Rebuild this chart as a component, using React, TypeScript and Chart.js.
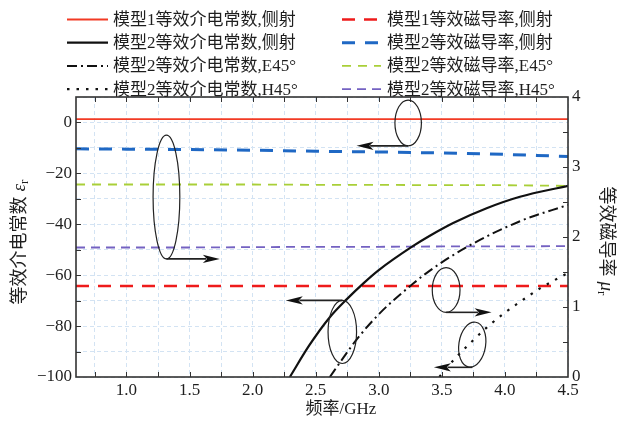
import React, { useEffect, useRef } from 'react';
import { Chart, registerables } from 'chart.js';

Chart.register(...registerables);

const SERIF = "'Liberation Serif', 'Noto Sans CJK SC', serif";
const TEXT = '#1e1e1e';

// Frequencies (GHz) for the nearly flat curves
const freqFlat = [0.6, 1.0, 1.5, 2.0, 2.5, 3.0, 3.5, 4.0, 4.5];
// Model 1 permittivity, broadside (left axis)
const eps1Side = [1.3, 1.3, 1.3, 1.3, 1.3, 1.3, 1.3, 1.3, 1.3];
// Permeabilities (right axis)
const mu1Side = [1.3, 1.3, 1.3, 1.3, 1.3, 1.3, 1.3, 1.3, 1.3];
const mu2Side = [3.26, 3.255, 3.25, 3.24, 3.225, 3.215, 3.2, 3.18, 3.15];
const mu2E45 = [2.75, 2.75, 2.75, 2.75, 2.745, 2.745, 2.74, 2.74, 2.73];
const mu2H45 = [1.85, 1.85, 1.85, 1.855, 1.86, 1.86, 1.865, 1.865, 1.87];

// Model 2 permittivity curves (left axis)
const freqEps2Side = [2.295, 2.45, 2.612, 2.745, 2.876, 3.0, 3.273, 3.405, 3.59, 3.855, 4.119, 4.5];
const eps2Side = [-100, -87.5, -76.5, -69.5, -63.3, -58.0, -48.5, -44.5, -39.5, -33.7, -29.2, -24.9];
const freqEps2E45 = [2.612, 2.718, 2.824, 3.009, 3.273, 3.405, 3.696, 4.119, 4.5];
const eps2E45 = [-100, -92.5, -85.3, -74.9, -63.3, -58.2, -49.0, -38.8, -32.4];
const freqEps2H45 = [3.48, 3.59, 3.723, 3.855, 3.987, 4.119, 4.278, 4.5];
const eps2H45 = [-100, -93.5, -86.8, -80.6, -75.2, -70.5, -65.2, -59.1];

const legendLabels = [
  '模型1等效介电常数,侧射',
  '模型2等效介电常数,侧射',
  '模型2等效介电常数,E45°',
  '模型2等效介电常数,H45°',
  '模型1等效磁导率,侧射',
  '模型2等效磁导率,侧射',
  '模型2等效磁导率,E45°',
  '模型2等效磁导率,H45°',
];

const xTickLabels = ['1.0', '1.5', '2.0', '2.5', '3.0', '3.5', '4.0', '4.5'];

// Ellipse call-outs marking which axis a group of curves belongs to
const callouts = [
  { x: 3.233, y: -0.2, rx: 0.105, ry: 9.0, tilt: 0, from: 'bottom', tipX: 2.824 },
  { x: 1.317, y: -29.3, rx: 0.106, ry: 24.3, tilt: 0, from: 'bottom', tipX: 1.74 },
  { x: 2.711, y: -82.3, rx: 0.113, ry: 12.4, tilt: 0, from: 'top', tipX: 2.263 },
  { x: 3.534, y: -65.8, rx: 0.11, ry: 8.8, tilt: 0, from: 'bottom', tipX: 3.894 },
  { x: 3.741, y: -87.3, rx: 0.106, ry: 8.9, tilt: 0.15, from: 'bottom', tipX: 3.437 },
];

const toPoints = (xs: number[], ys: number[]) => xs.map((x, i) => ({ x, y: ys[i] }));

const frameAndTicks = {
  id: 'frameAndTicks',
  afterDatasetsDraw(chart: any) {
    const { ctx, chartArea: a, scales } = chart;
    const tl = 5;
    ctx.save();
    ctx.strokeStyle = '#333333';
    ctx.lineWidth = 1;
    ctx.setLineDash([]);
    ctx.beginPath();
    for (let v = 0.75; v < 4.5; v += 0.25) {
      const px = Math.round(scales.x.getPixelForValue(v)) + 0.5;
      ctx.moveTo(px, a.bottom); ctx.lineTo(px, a.bottom - tl);
      ctx.moveTo(px, a.top); ctx.lineTo(px, a.top + tl);
    }
    for (let v = -90; v < 10; v += 10) {
      const py = Math.round(scales.y.getPixelForValue(v)) + 0.5;
      ctx.moveTo(a.left, py); ctx.lineTo(a.left + tl, py);
    }
    for (let v = 0.5; v < 4; v += 0.5) {
      const py = Math.round(scales.y1.getPixelForValue(v)) + 0.5;
      ctx.moveTo(a.right, py); ctx.lineTo(a.right - tl, py);
    }
    ctx.stroke();
    ctx.lineWidth = 1.6;
    ctx.strokeRect(a.left, a.top, a.right - a.left, a.bottom - a.top);
    ctx.restore();
  },
};

const calloutPlugin = {
  id: 'callouts',
  afterDatasetsDraw(chart: any) {
    const { ctx, scales } = chart;
    ctx.save();
    ctx.setLineDash([]);
    ctx.strokeStyle = '#222';
    ctx.fillStyle = '#111';
    callouts.forEach((c) => {
      const cx = scales.x.getPixelForValue(c.x);
      const cy = scales.y.getPixelForValue(c.y);
      const rx = scales.x.getPixelForValue(c.x + c.rx) - cx;
      const ry = cy - scales.y.getPixelForValue(c.y + c.ry);
      ctx.lineWidth = 1.2;
      ctx.beginPath();
      ctx.ellipse(cx, cy, rx, ry, c.tilt, 0, Math.PI * 2);
      ctx.stroke();
      const ay = c.from === 'bottom' ? cy + ry : cy - ry;
      const tip = scales.x.getPixelForValue(c.tipX);
      const dir = tip > cx ? 1 : -1;
      const headLen = 17;
      ctx.lineWidth = 1.6;
      ctx.beginPath();
      ctx.moveTo(cx, ay);
      ctx.lineTo(tip - dir * headLen * 0.8, ay);
      ctx.stroke();
      ctx.beginPath();
      ctx.moveTo(tip, ay);
      ctx.lineTo(tip - dir * headLen, ay - 4.2);
      ctx.lineTo(tip - dir * headLen * 0.75, ay);
      ctx.lineTo(tip - dir * headLen, ay + 4.2);
      ctx.closePath();
      ctx.fill();
    });
    ctx.restore();
  },
};

function drawAxisTitle(ctx: CanvasRenderingContext2D, cx: number, cy: number, angle: number, main: string, sym: string) {
  ctx.save();
  ctx.translate(cx, cy);
  ctx.rotate(angle);
  ctx.fillStyle = TEXT;
  ctx.textBaseline = 'alphabetic';
  ctx.textAlign = 'left';
  const mainFont = `18px ${SERIF}`;
  const symFont = "italic 19px 'Liberation Serif', 'DejaVu Serif', serif";
  const subFont = "13px 'Liberation Serif', serif";
  ctx.font = mainFont;
  const wMain = ctx.measureText(main).width;
  const gap = 5;
  ctx.font = symFont;
  const wSym = ctx.measureText(sym).width;
  ctx.font = subFont;
  const wSub = ctx.measureText('r').width;
  let x = -(wMain + gap + wSym + wSub) / 2;
  const base = 6;
  ctx.font = mainFont;
  ctx.fillText(main, x, base);
  x += wMain + gap;
  ctx.font = symFont;
  ctx.fillText(sym, x, base);
  x += wSym;
  ctx.font = subFont;
  ctx.fillText('r', x, base + 3);
  ctx.restore();
}

const titlesAndLegend = {
  id: 'titlesAndLegend',
  afterDraw(chart: any) {
    const { ctx } = chart;
    ctx.save();
    // axis titles
    ctx.font = `17px ${SERIF}`;
    ctx.fillStyle = TEXT;
    ctx.textAlign = 'center';
    ctx.textBaseline = 'middle';
    ctx.fillText('频率/GHz', 341, 410);
    drawAxisTitle(ctx, 19, 242, -Math.PI / 2, '等效介电常数', 'ε');
    drawAxisTitle(ctx, 607, 241, Math.PI / 2, '等效磁导率', 'μ');

    // two-column legend: permittivity on the left, permeability on the right
    const cols = [
      { x0: 67, x1: 108, tx: 113 },
      { x0: 342, x1: 381, tx: 387 },
    ];
    chart.data.datasets.forEach((ds: any, i: number) => {
      const col = cols[Math.floor(i / 4)];
      const y = 19.5 + (i % 4) * 23.2;
      ctx.save();
      ctx.strokeStyle = ds.borderColor;
      ctx.lineWidth = ds.borderWidth;
      ctx.setLineDash(ds.borderDash || []);
      ctx.beginPath();
      ctx.moveTo(col.x0, y);
      ctx.lineTo(col.x1, y);
      ctx.stroke();
      ctx.restore();
      ctx.font = `17px ${SERIF}`;
      ctx.fillStyle = TEXT;
      ctx.textAlign = 'left';
      ctx.textBaseline = 'middle';
      ctx.fillText(ds.label, col.tx, y + 1);
    });
    ctx.restore();
  },
};

export default function App() {
  const canvasRef = useRef<HTMLCanvasElement | null>(null);

  useEffect(() => {
    document.body.style.margin = '0';
    const canvas = canvasRef.current;
    if (!canvas) return;

    const line = (label: string, pts: any[], axis: string, color: string, width: number, dash: number[], curved = false) => ({
      label,
      data: pts,
      yAxisID: axis,
      borderColor: color,
      backgroundColor: color,
      borderWidth: width,
      borderDash: dash,
      pointRadius: 0,
      fill: false,
      cubicInterpolationMode: curved ? 'monotone' : 'default',
      tension: 0,
    });

    const gridColor = '#d3e3f3';
    const tickFont = { family: SERIF, size: 17 };

    const chart = new Chart(canvas, {
      type: 'line',
      data: {
        datasets: [
          line(legendLabels[0], toPoints(freqFlat, eps1Side), 'y', '#f23a24', 1.8, []),
          line(legendLabels[1], toPoints(freqEps2Side, eps2Side), 'y', '#111111', 2.2, [], true),
          line(legendLabels[2], toPoints(freqEps2E45, eps2E45), 'y', '#111111', 2, [10, 4, 2, 4], true),
          line(legendLabels[3], toPoints(freqEps2H45, eps2H45), 'y', '#111111', 2.2, [2.5, 7], true),
          line(legendLabels[4], toPoints(freqFlat, mu1Side), 'y1', '#ee1b1b', 2.6, [13, 9]),
          line(legendLabels[5], toPoints(freqFlat, mu2Side), 'y1', '#1f68c4', 3, [13, 10]),
          line(legendLabels[6], toPoints(freqFlat, mu2E45), 'y1', '#a9cf38', 1.8, [9, 7]),
          line(legendLabels[7], toPoints(freqFlat, mu2H45), 'y1', '#7462c2', 1.8, [9, 6]),
        ] as any,
      },
      options: {
        responsive: false,
        animation: false,
        devicePixelRatio: 1,
        parsing: true,
        layout: { padding: { top: 97, left: 0, right: 0, bottom: 0 } },
        plugins: {
          legend: { display: false },
          tooltip: { enabled: false },
          title: { display: false },
        },
        scales: {
          x: {
            type: 'linear',
            min: 0.6,
            max: 4.5,
            grid: { color: gridColor, lineWidth: 1, drawTicks: false },
            border: { display: false, dash: [4, 3] },
            ticks: {
              stepSize: 0.25,
              includeBounds: false,
              autoSkip: false,
              maxRotation: 0,
              padding: 3,
              color: TEXT,
              font: tickFont,
              callback: (v: any) => {
                const s = Number(v).toFixed(1);
                return Math.abs(v * 2 - Math.round(v * 2)) < 1e-6 && xTickLabels.includes(s) ? s : '';
              },
            },
            afterFit: (s: any) => { s.height = 46; },
          },
          y: {
            type: 'linear',
            position: 'left',
            min: -100,
            max: 10,
            grid: { color: gridColor, lineWidth: 1, drawTicks: false },
            border: { display: false, dash: [4, 3] },
            ticks: {
              stepSize: 10,
              autoSkip: false,
              padding: 4,
              color: TEXT,
              font: tickFont,
              callback: (v: any) => (v % 20 === 0 ? (v < 0 ? '\u2212' + Math.abs(v) : String(v)) : ''),
            },
            afterFit: (s: any) => { s.width = 76; },
          },
          y1: {
            type: 'linear',
            position: 'right',
            min: 0,
            max: 4,
            grid: { display: false, drawTicks: false },
            border: { display: false },
            ticks: {
              stepSize: 0.5,
              autoSkip: false,
              padding: 4,
              color: TEXT,
              font: tickFont,
              callback: (v: any) => (Number.isInteger(v) ? String(v) : ''),
            },
            afterFit: (s: any) => { s.width = 53; },
          },
        },
      } as any,
      plugins: [frameAndTicks, calloutPlugin, titlesAndLegend],
    });

    return () => chart.destroy();
  }, []);

  return (
    <div style={{ width: 621, height: 423 }}>
      <canvas ref={canvasRef} width={621} height={423} style={{ display: 'block' }} />
    </div>
  );
}
